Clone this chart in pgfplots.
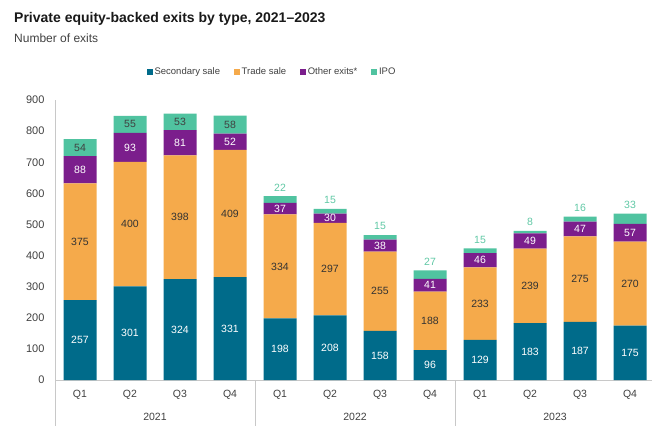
\documentclass[border=0pt]{standalone}
\usepackage{pgfplots}
\usepackage{pgfplotstable}
\pgfplotsset{compat=1.18}
\usepackage{fontspec}
\setmainfont{Liberation Sans}
\definecolor{csec}{RGB}{0,107,138}
\definecolor{ctrade}{RGB}{245,170,75}
\definecolor{cother}{RGB}{123,30,140}
\definecolor{cipo}{RGB}{80,195,160}
\definecolor{cipotxt}{RGB}{96,200,165}
\definecolor{ctxt}{RGB}{64,64,64}
\definecolor{cline}{RGB}{200,200,200}
\pgfplotstableread{
x sec trade other ipo
0 257 375 88 54
1 301 400 93 55
2 324 398 81 53
3 331 409 52 58
4 198 334 37 22
5 208 297 30 15
6 158 255 38 15
7 96 188 41 27
8 129 233 46 15
9 183 239 49 8
10 187 275 47 16
11 175 270 57 33
}\datatable
\pgfplotsset{
  base/.style={
    at={(55pt,46pt)}, anchor=south west,
    scale only axis, width=600pt, height=280pt,
    xmin=-0.5, xmax=11.5, ymin=0, ymax=900,
    clip=false,
    /pgf/number format/assume math mode=true,
  },
  lbl/.style={only marks, mark=none, nodes near coords, point meta=explicit,
    every node near coord/.append style={anchor=center, font=\fontsize{10.5}{12}\selectfont, text=#1}},
}
\begin{document}
\begin{tikzpicture}
\useasboundingbox (0,0) rectangle (652pt,426pt);
\node[anchor=base west, font=\bfseries\fontsize{14}{16}\selectfont, text=black!90, inner sep=0pt] at (14pt,403.5pt) {Private equity-backed exits by type, 2021–2023};
\node[anchor=base west, font=\fontsize{12}{14}\selectfont, text=ctxt, inner sep=0pt] at (14pt,383pt) {Number of exits};
\begin{axis}[base,
  ybar stacked, bar width=33pt,
  axis lines*=left,
  axis line style={cline, line width=0.8pt},
  major tick length=0pt,
  ytick={0,100,...,900},
  xtick={0,...,11},
  xticklabels={Q1,Q2,Q3,Q4,Q1,Q2,Q3,Q4,Q1,Q2,Q3,Q4},
  tick label style={text=ctxt},
  yticklabel style={font=\fontsize{11}{13}\selectfont, xshift=-7pt},
  xticklabel style={font=\fontsize{10.5}{12}\selectfont, yshift=-7pt},
  legend style={at={(axis description cs:0.362,1.1)}, anchor=center, draw=none,
    font=\fontsize{9.5}{11}\selectfont, text=ctxt, legend columns=4,
    /tikz/every even column/.append style={column sep=12pt}},
  legend image code/.code={\fill[#1] (0pt,-2.8pt) rectangle (5.6pt,2.8pt);},
]
\addplot[fill=csec, draw=none] table[x=x,y=sec]{\datatable};
\addlegendentry{Secondary sale}
\addplot[fill=ctrade, draw=none] table[x=x,y=trade]{\datatable};
\addlegendentry{Trade sale}
\addplot[fill=cother, draw=none] table[x=x,y=other]{\datatable};
\addlegendentry{Other exits*}
\addplot[fill=cipo, draw=none] table[x=x,y=ipo]{\datatable};
\addlegendentry{IPO}
\draw[cline, line width=0.8pt] (axis cs:-0.5,0) -- ([yshift=-46pt]axis cs:-0.5,0);
\draw[cline, line width=0.8pt] (axis cs:3.5,0) -- ([yshift=-46pt]axis cs:3.5,0);
\draw[cline, line width=0.8pt] (axis cs:7.5,0) -- ([yshift=-46pt]axis cs:7.5,0);
\node[font=\fontsize{10.5}{12}\selectfont, text=ctxt] at ([yshift=-36.7pt]axis cs:1.5,0) {2021};
\node[font=\fontsize{10.5}{12}\selectfont, text=ctxt] at ([yshift=-36.7pt]axis cs:5.5,0) {2022};
\node[font=\fontsize{10.5}{12}\selectfont, text=ctxt] at ([yshift=-36.7pt]axis cs:9.5,0) {2023};
\end{axis}
\begin{axis}[base, hide axis]
\addplot[lbl=white] table[x=x, y expr=\thisrow{sec}/2, meta=sec]{\datatable};
\addplot[lbl=black!80] table[x=x, y expr=\thisrow{sec}+\thisrow{trade}/2, meta=trade]{\datatable};
\addplot[lbl=white] table[x=x, y expr=\thisrow{sec}+\thisrow{trade}+\thisrow{other}/2, meta=other]{\datatable};
\addplot[lbl=black!75, restrict x to domain=0:3] table[x=x, y expr=\thisrow{sec}+\thisrow{trade}+\thisrow{other}+\thisrow{ipo}/2, meta=ipo]{\datatable};
\addplot[lbl=cipotxt, restrict x to domain=4:11, every node near coord/.append style={anchor=south, yshift=1.5pt}] table[x=x, y expr=\thisrow{sec}+\thisrow{trade}+\thisrow{other}+\thisrow{ipo}, meta=ipo]{\datatable};
\end{axis}
\end{tikzpicture}
\end{document}
